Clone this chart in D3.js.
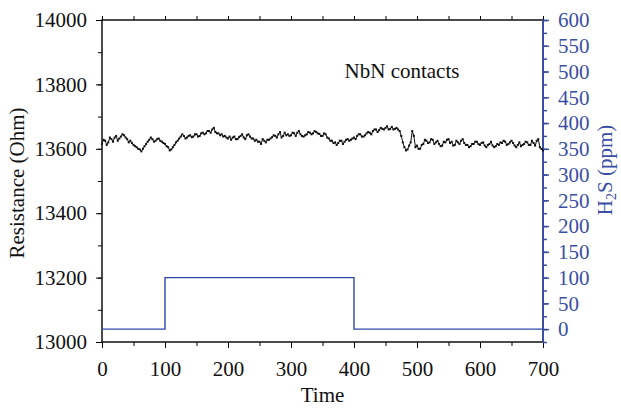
<!DOCTYPE html>
<html>
<head>
<meta charset="utf-8">
<script src="https://cdn.jsdelivr.net/npm/d3@7"></script>
<style>
  body { margin: 0; background: #fff; }
  svg text { font-family: "Liberation Serif", "Times New Roman", serif; }
</style>
</head>
<body>
<div id="chart"></div>
<script>
// resistance readings, one every 2.5 time units (0..700)
const timeStep = 2.5;
const resistance = [
  13615, 13628, 13625, 13612, 13620, 13635, 13630, 13622, 13635, 13640,
  13625, 13632, 13638, 13645, 13642, 13635, 13630, 13620, 13625, 13618,
  13612, 13608, 13605, 13600, 13598, 13592, 13600, 13608, 13615, 13622,
  13628, 13635, 13630, 13622, 13625, 13630, 13632, 13625, 13622, 13618,
  13615, 13608, 13605, 13595, 13598, 13605, 13612, 13620, 13625, 13632,
  13638, 13645, 13640, 13632, 13635, 13640, 13642, 13636, 13638, 13645,
  13645, 13638, 13640, 13648, 13650, 13645, 13648, 13655, 13655, 13650,
  13660, 13665, 13652, 13648, 13648, 13642, 13645, 13638, 13640, 13635,
  13632, 13638, 13628, 13635, 13638, 13630, 13630, 13636, 13640, 13645,
  13635, 13630, 13642, 13645, 13638, 13632, 13632, 13625, 13628, 13622,
  13622, 13615, 13630, 13625, 13620, 13628, 13628, 13632, 13636, 13642,
  13640, 13635, 13645, 13652, 13635, 13640, 13650, 13642, 13645, 13640,
  13642, 13650, 13648, 13640, 13650, 13655, 13645, 13640, 13638, 13642,
  13645, 13652, 13650, 13645, 13648, 13655, 13652, 13648, 13646, 13640,
  13640, 13648, 13645, 13635, 13632, 13625, 13625, 13618, 13620, 13612,
  13618, 13625, 13625, 13615, 13622, 13628, 13630, 13625, 13628, 13632,
  13635, 13630, 13640, 13645, 13645, 13638, 13638, 13642, 13648, 13652,
  13650, 13645, 13655, 13660, 13660, 13652, 13658, 13665, 13662, 13660,
  13665, 13670, 13660, 13662, 13668, 13660, 13662, 13665, 13660, 13655,
  13640, 13620, 13605, 13595, 13598, 13610, 13620, 13655, 13640, 13605,
  13610, 13600, 13600, 13612, 13615, 13628, 13625, 13618, 13620, 13630,
  13628, 13615, 13620, 13625, 13615, 13608, 13610, 13622, 13620, 13628,
  13630, 13618, 13622, 13610, 13612, 13625, 13620, 13615, 13625, 13630,
  13618, 13612, 13612, 13605, 13608, 13615, 13615, 13622, 13622, 13615,
  13612, 13618, 13620, 13610, 13605, 13612, 13615, 13622, 13610, 13605,
  13608, 13615, 13612, 13620, 13618, 13625, 13622, 13612, 13615, 13620,
  13625, 13618, 13610, 13605, 13612, 13620, 13608, 13612, 13615, 13622,
  13620, 13612, 13612, 13625, 13618, 13610, 13625, 13630, 13605, 13600,
  13595
];
// H2S step profile
const gasTime = [0, 100, 100, 400, 400, 700];
const gasPpm = [0, 0, 100, 100, 0, 0];

const xTicks = [0, 100, 200, 300, 400, 500, 600, 700];
const leftTicks = [13000, 13200, 13400, 13600, 13800, 14000];
const rightTicks = [0, 50, 100, 150, 200, 250, 300, 350, 400, 450, 500, 550, 600];

const theme = { black: "#111", blue: "#3a4ea3", line: "#2f47aa" };
const width = 621, height = 409;
const margin = { left: 102, right: 78, top: 20, bottom: 67 };
const fontSize = 21;

const svg = d3.select("#chart").append("svg")
  .attr("width", width).attr("height", height);

const xScale = d3.scaleLinear().domain([0, 700]).range([margin.left, width - margin.right]);
const yLeft = d3.scaleLinear().domain([13000, 14000]).range([height - margin.bottom, margin.top]);
const yRight = d3.scaleLinear().domain([-25, 600]).range([height - margin.bottom, margin.top]);

const styleText = (g, color) => g.selectAll("text")
  .attr("font-size", fontSize).attr("fill", color).attr("font-family", "Liberation Serif");

// bottom axis
const bottom = svg.append("g")
  .attr("transform", `translate(0, ${height - margin.bottom})`)
  .call(d3.axisBottom(xScale).tickValues(d3.range(0, 701, 50)).tickSize(4).tickFormat(""))
  .call(g => g.select(".domain").remove());
bottom.append("g")
  .call(d3.axisBottom(xScale).tickValues(xTicks).tickSize(6).tickPadding(13))
  .call(g => g.select(".domain").remove())
  .call(g => styleText(g, theme.black));

// top axis
svg.append("g")
  .attr("transform", `translate(0, ${margin.top})`)
  .call(d3.axisTop(xScale).tickValues(d3.range(0, 701, 50)).tickSize(4).tickFormat(""))
  .call(g => g.select(".domain").remove());

// left axis
const left = svg.append("g").attr("transform", `translate(${margin.left}, 0)`)
  .call(d3.axisLeft(yLeft).tickValues(d3.range(13000, 14001, 100)).tickSize(4).tickFormat(""))
  .call(g => g.select(".domain").remove());
left.append("g")
  .call(d3.axisLeft(yLeft).tickValues(leftTicks).tickSize(6).tickPadding(9).tickFormat(d3.format("d")))
  .call(g => g.select(".domain").remove())
  .call(g => styleText(g, theme.black));

// right axis
const right = svg.append("g").attr("transform", `translate(${width - margin.right}, 0)`)
  .call(d3.axisRight(yRight).tickValues(d3.range(-25, 601, 25)).tickSize(4).tickFormat(""))
  .call(g => g.select(".domain").remove())
  .call(g => g.selectAll("line").attr("stroke", theme.blue).attr("stroke-width", 1.5));
right.append("g")
  .call(d3.axisRight(yRight).tickValues(rightTicks).tickSize(6).tickPadding(9))
  .call(g => g.select(".domain").remove())
  .call(g => g.selectAll("line").attr("stroke", theme.blue).attr("stroke-width", 1.5))
  .call(g => styleText(g, theme.blue));

// frame
svg.append("path")
  .attr("d", `M${margin.left},${height - margin.bottom}V${margin.top}H${width - margin.right}`)
  .attr("fill", "none").attr("stroke", theme.black).attr("stroke-width", 1.5);
svg.append("line")
  .attr("x1", margin.left).attr("x2", width - margin.right)
  .attr("y1", height - margin.bottom).attr("y2", height - margin.bottom)
  .attr("stroke", theme.black).attr("stroke-width", 1.5);
svg.append("line")
  .attr("x1", width - margin.right).attr("x2", width - margin.right)
  .attr("y1", margin.top).attr("y2", height - margin.bottom)
  .attr("stroke", theme.blue).attr("stroke-width", 2);

// H2S step line
const gasData = gasTime.map((t, i) => ({ t, v: gasPpm[i] }));
svg.append("path")
  .datum(gasData)
  .attr("fill", "none").attr("stroke", theme.line).attr("stroke-width", 1.4)
  .attr("d", d3.line().x(d => xScale(d.t)).y(d => yRight(d.v)));

// resistance trace
const resData = resistance.map((v, i) => ({ t: i * timeStep, v }));
svg.append("path")
  .datum(resData)
  .attr("fill", "none").attr("stroke", theme.black).attr("stroke-width", 1)
  .attr("d", d3.line().x(d => xScale(d.t)).y(d => yLeft(d.v)));
svg.append("g").selectAll("rect").data(resData).enter().append("rect")
  .attr("x", d => xScale(d.t) - 1).attr("y", d => yLeft(d.v) - 1)
  .attr("width", 2).attr("height", 2).attr("fill", theme.black);

// labels
svg.append("text").attr("x", 402).attr("y", 78).attr("text-anchor", "middle")
  .attr("font-size", fontSize).attr("fill", theme.black).text("NbN contacts");
svg.append("text").attr("x", (margin.left + width - margin.right) / 2).attr("y", 402)
  .attr("text-anchor", "middle").attr("font-size", fontSize).attr("fill", theme.black).text("Time");
svg.append("text").attr("transform", "translate(24, 183) rotate(-90)")
  .attr("text-anchor", "middle").attr("font-size", fontSize).attr("fill", theme.black)
  .text("Resistance (Ohm)");
const rt = svg.append("text").attr("transform", "translate(612, 170) rotate(-90)")
  .attr("text-anchor", "middle").attr("font-size", fontSize).attr("fill", theme.blue);
rt.append("tspan").text("H");
rt.append("tspan").attr("font-size", 14).attr("dy", 4).text("2");
rt.append("tspan").attr("dy", -4).text("S (ppm)");
</script>
</body>
</html>
